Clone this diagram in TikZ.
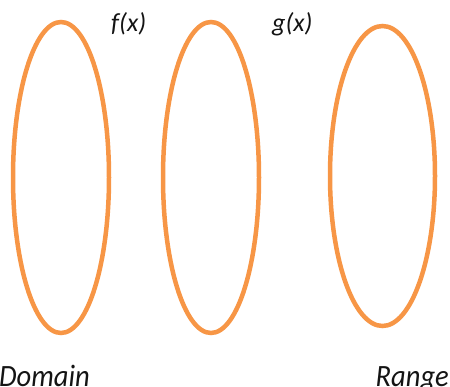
\documentclass[tikz,border=0pt]{standalone}
\usepackage{fontspec}
\setmainfont{Carlito}
\definecolor{setorange}{RGB}{247,150,70}
\definecolor{txt}{RGB}{20,20,20}
\begin{document}
\begin{tikzpicture}[x=1pt,y=-1pt,
  setring/.style={draw=setorange,line width=4.5pt},
  lbl/.style={inner sep=0pt,text=txt,font=\itshape\fontsize{26}{26}\selectfont},
  biglbl/.style={inner sep=0pt,text=txt,transform shape,xscale=0.92,font=\itshape\fontsize{31}{31}\selectfont}]
\useasboundingbox (0,0) rectangle (450,387);
\draw[setring] (61,177.5) ellipse [x radius=48, y radius=155.5];
\draw[setring] (211,177.5) ellipse [x radius=48, y radius=155.5];
\draw[setring] (382.5,176) ellipse [x radius=52.5, y radius=150];
\node[lbl,anchor=base west] (f) at (111,32) {f(x)};
\node[lbl,anchor=base west] (g) at (272,32) {g(x)};
\node[biglbl,anchor=base west] (dom) at (-1,386.5) {Domain};
\node[biglbl,anchor=base east] (ran) at (449,386.5) {Range};
\end{tikzpicture}
\end{document}
